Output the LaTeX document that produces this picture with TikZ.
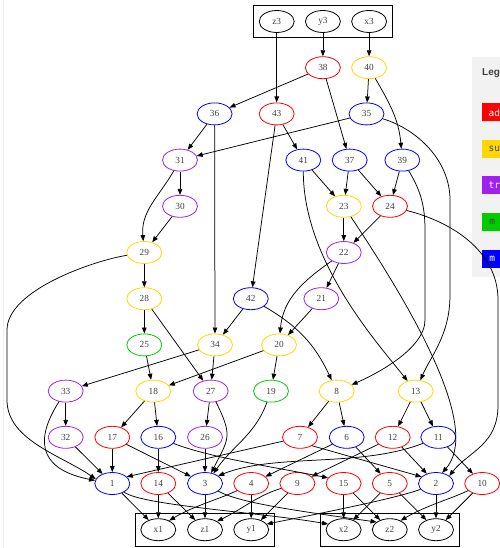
\documentclass[tikz,border=0pt]{standalone}
\usepackage{fontspec}
\setmainfont{Liberation Serif}
\setsansfont{Liberation Sans}
\setmonofont{DejaVu Sans Mono}
\usetikzlibrary{arrows.meta,shapes.geometric,fit}

\definecolor{cadd}{HTML}{FF0000}
\definecolor{csub}{HTML}{FFD700}
\definecolor{ctr}{HTML}{A020F0}
\definecolor{cmul}{HTML}{00CC00}
\definecolor{cmm}{HTML}{0000FF}
\definecolor{ink}{HTML}{404040}
\definecolor{panel}{HTML}{F2F2F2}

\begin{document}
\begin{tikzpicture}[x=1bp, y=1bp, node distance=46.2bp,
    op/.style={ellipse, draw, line width=0.8bp, minimum width=35bp,
      minimum height=22bp, inner sep=0pt, text=ink,
      font=\fontsize{9.3bp}{11bp}\selectfont},
    var/.style={op, draw=black},
    addop/.style={op, draw=cadd},
    subop/.style={op, draw=csub},
    trop/.style={op, draw=ctr},
    mulop/.style={op, draw=cmul},
    mmop/.style={op, draw=cmm},
    group/.style={draw, line width=0.8bp, inner sep=5bp},
    key/.style={anchor=west, minimum height=18bp, minimum width=20bp,
      inner xsep=6.5bp, inner ysep=0pt, font=\ttfamily\fontsize{9.5bp}{11bp}\selectfont},
    link/.style={-{Triangle[length=6bp,width=4.6bp]}, line width=0.75bp}]
\useasboundingbox (0,0) rectangle (500,-548);
\draw[black!7, line width=1.5bp] (3.5,0) -- (3.5,-548);

% legend panel
\fill[panel] (472,-57) rectangle (500,-277);
\node (legtitle) [anchor=west, inner sep=0pt, text=ink,
  font=\sffamily\bfseries\fontsize{10bp}{12bp}\selectfont] at (482,-72.7) {Leg};
\node (kadd) [key, fill=cadd, text=white] at (482,-112.5) {ad};
\node (ksub) [key, fill=csub, text=ink] at (482,-149) {su};
\node (ktr) [key, fill=ctr, text=white] at (482,-185.5) {tr};
\node (kmul) [key, fill=cmul, text=ink] at (482,-222) {m};
\node (kmm) [key, fill=cmm, text=white] at (482,-258.5) {m};

% inputs
\node (z3) [var] at (276.7,-21.5) {z3};
\node (y3) [var, right of=z3] {y3};
\node (x3) [var, right of=y3] {x3};
\node (top) [group, fit=(z3)(y3)(x3)] {};

\node (n38) [addop, below of=y3] {38};
\node (n40) [subop, below of=x3] {40};
\node (n36) [mmop, below of=n38, xshift=-108.3bp] {36};
\node (n43) [addop, below of=n38, xshift=-46.2bp] {43};
\node (n35) [mmop, below of=n40, xshift=-2.6bp] {35};
\node (n31) [trop, below of=n36, xshift=-34.6bp] {31};
\node (n41) [mmop, below of=n43, xshift=26.6bp] {41};
\node (n37) [mmop, below of=n43, xshift=73bp] {37};
\node (n39) [mmop, below of=n35, xshift=35.8bp] {39};
\node (n30) [trop, below of=n31] {30};
\node (n23) [subop, below of=n41, xshift=40.5bp] {23};
\node (n24) [addop, below of=n39, xshift=-12.3bp] {24};
\node (n29) [subop, below of=n30, xshift=-35.7bp] {29};
\node (n22) [trop, below of=n23] {22};
\node (n28) [subop, below of=n29] {28};
\node (n42) [mmop, below of=n22, xshift=-93bp] {42};
\node (n21) [trop, below of=n22, xshift=-22.5bp] {21};
\node (n25) [mulop, below of=n28] {25};
\node (n34) [subop, below of=n42, xshift=-35.8bp] {34};
\node (n20) [subop, below of=n42, xshift=28.2bp] {20};
\node (n33) [trop, below of=n25, xshift=-78.6bp] {33};
\node (n18) [subop, below of=n25, xshift=9bp] {18};
\node (n27) [trop, below of=n34, xshift=-4.3bp] {27};
\node (n19) [mulop, below of=n20, xshift=-8bp] {19};
\node (n8) [subop, below of=n20, xshift=57.7bp] {8};
\node (n13) [subop, below of=n20, xshift=136.7bp] {13};
\node (n32) [trop, below of=n33] {32};
\node (n17) [addop, below of=n18, xshift=-41bp] {17};
\node (n16) [mmop, below of=n18, xshift=5bp] {16};
\node (n26) [trop, below of=n27, xshift=-5.7bp] {26};
\node (n7) [addop, below of=n8, xshift=-36.7bp] {7};
\node (n6) [mmop, below of=n8, xshift=10bp] {6};
\node (n12) [addop, below of=n13, xshift=-23bp] {12};
\node (n11) [mmop, below of=n13, xshift=22.6bp] {11};
\node (n1) [mmop, below of=n17] {1};
\node (n14) [addop, below of=n16] {14};
\node (n3) [mmop, below of=n26] {3};
\node (n4) [addop, right of=n3] {4};
\node (n9) [addop, right of=n4] {9};
\node (n15) [addop, right of=n9] {15};
\node (n5) [addop, right of=n15] {5};
\node (n2) [mmop, right of=n5] {2};
\node (n10) [addop, right of=n2] {10};

% outputs
\node (x1) [var, below of=n14] {x1};
\node (z1) [var, below of=n3] {z1};
\node (y1) [var, below of=n4] {y1};
\node (x2) [var, below of=n15] {x2};
\node (z2) [var, below of=n5] {z2};
\node (y2) [var, below of=n2] {y2};
\node (bot1) [group, fit=(x1)(z1)(y1)] {};
\node (bot2) [group, fit=(x2)(z2)(y2)] {};

\draw[link] (z3) -- (n43);
\draw[link] (y3) -- (n38);
\draw[link] (x3) -- (n40);
\draw[link] (n38) -- (n36);
\draw[link] (n38) -- (n37);
\draw[link] (n40) -- (n35);
\draw[link] (n40) to[out=-60, in=95] (n39);
\draw[link] (n36) -- (n31);
\draw[link] (n36) -- (n34);
\draw[link] (n43) -- (n41);
\draw[link] (n43) -- (n42);
\draw[link] (n35) -- (n31);
\draw[link] (n35) .. controls +(50,-15) and +(0,40) .. (450,-200) -- (450,-295)
  .. controls +(0,-40) and +(15,35) .. (n13);
\draw[link] (n31) -- (n30);
\draw[link] (n31) to[out=-120, in=95] (n29);
\draw[link] (n41) -- (n23);
\draw[link] (n41) .. controls +(0,-100) and +(-40,50) .. (n13);
\draw[link] (n37) -- (n23);
\draw[link] (n37) -- (n24);
\draw[link] (n39) -- (n24);
\draw[link] (n39) .. controls +(18,-30) and +(0,25) .. (425,-230) -- (425,-320)
  .. controls +(0,-30) and +(35,15) .. (n8);
\draw[link] (n30) -- (n29);
\draw[link] (n23) -- (n22);
\draw[link] (n23) .. controls (420,-320) and (480,-430) .. (n2.60);
\draw[link] (n24) -- (n22);
\draw[link] (n24) .. controls +(60,-15) and +(0,50) .. (498,-300) -- (498,-405)
  .. controls +(0,-40) and +(20,25) .. (n2.30);
\draw[link] (n29) -- (n28);
\draw[link] (n29) .. controls +(-50,-8) and +(0,40) .. (7,-330) -- (7,-400)
  .. controls +(0,-40) and +(-35,24) .. (n1.165);
\draw[link] (n22) -- (n21);
\draw[link] (n22) to[out=-145, in=85] (n20);
\draw[link] (n28) -- (n25);
\draw[link] (n28) -- (n27);
\draw[link] (n42) -- (n34);
\draw[link] (n42) to[out=-30, in=115] (n8);
\draw[link] (n21) -- (n20);
\draw[link] (n25) -- (n18);
\draw[link] (n34) -- (n33);
\draw[link] (n34) -- (n27);
\draw[link] (n20) -- (n18);
\draw[link] (n20) -- (n19);
\draw[link] (n33) -- (n32);
\draw[link] (n33) .. controls +(-35,-55) and +(-50,10) .. (n1.170);
\draw[link] (n18) -- (n17);
\draw[link] (n18) -- (n16);
\draw[link] (n27) -- (n26);
\draw[link] (n27) .. controls +(22,-45) and +(18,35) .. (n3.60);
\draw[link] (n19) to[out=-110, in=55] (n3.50);
\draw[link] (n8) -- (n7);
\draw[link] (n8) -- (n6);
\draw[link] (n13) -- (n12);
\draw[link] (n13) -- (n11);
\draw[link] (n32) -- (n1);
\draw[link] (n17) -- (n1);
\draw[link] (n17) -- (n3);
\draw[link] (n16) -- (n14);
\draw[link] (n16) .. controls +(50,-20) and +(-50,10) .. (n15.160);
\draw[link] (n26) -- (n3);
\draw[link] (n7) -- (n1.25);
\draw[link] (n7.-35) -- (n2.155);
\draw[link] (n6) -- (n4);
\draw[link] (n6) -- (n5);
\draw[link] (n12) -- (n9);
\draw[link] (n12) -- (n2);
\draw[link] (n11) .. controls (360,-468) and (275,-453) .. (n3.30);
\draw[link] (n11) -- (n10);
\draw[link] (n1) -- (x1);
\draw[link] (n1) .. controls +(30,-22) and +(-70,12) .. (x2.160);
\draw[link] (n14) -- (x1);
\draw[link] (n14) -- (z1);
\draw[link] (n3) -- (z1);
\draw[link] (n3) .. controls +(35,-20) and +(-70,10) .. (z2.150);
\draw[link] (n4) .. controls +(-30,-15) and +(25,15) .. (x1.40);
\draw[link] (n4) -- (y1);
\draw[link] (n9) .. controls +(-40,-12) and +(25,12) .. (z1.35);
\draw[link] (n9) -- (y1);
\draw[link] (n15) -- (x2);
\draw[link] (n15) -- (z2);
\draw[link] (n5) -- (x2);
\draw[link] (n5) -- (y2);
\draw[link] (n2) -- (y2);
\draw[link] (n2) .. controls +(-40,-15) and +(50,10) .. (y1.20);
\draw[link] (n10) .. controls +(-30,-15) and +(25,15) .. (z2.40);
\draw[link] (n10) -- (y2);
\end{tikzpicture}
\end{document}
